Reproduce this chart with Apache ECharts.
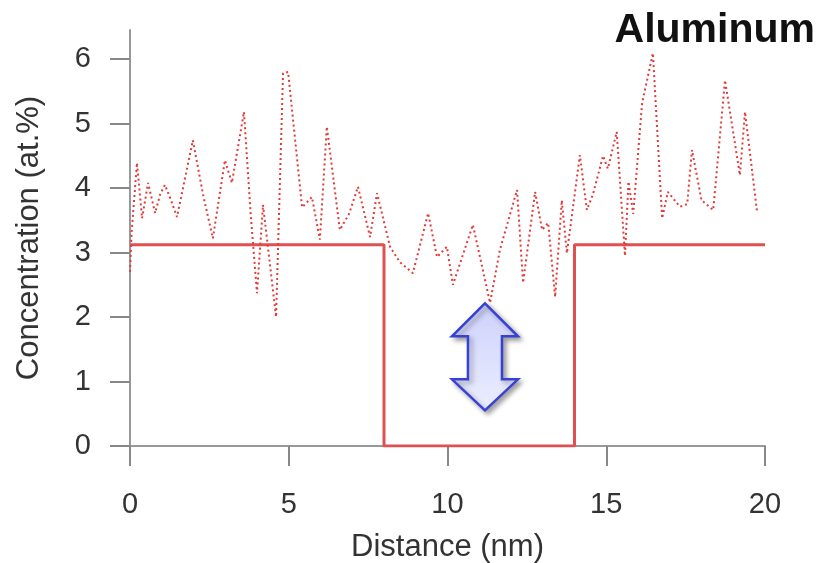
<!DOCTYPE html>
<html>
<head>
<meta charset="utf-8">
<title>Aluminum</title>
<script src="https://cdn.jsdelivr.net/npm/echarts@6/dist/echarts.min.js"></script>
<style>
  html, body { margin: 0; padding: 0; background: #fff; }
  #main { width: 823px; height: 563px; }
</style>
</head>
<body>
<div id="main"></div>
<script>
// tick labels
const xTicks = [0, 5, 10, 15, 20]
const yTicks = [0, 1, 2, 3, 4, 5, 6]

// measured concentration (dotted)
const noiseX = [0, 0.05, 0.22, 0.38, 0.57, 0.79, 0.95, 1.1, 1.3, 1.48, 1.98, 2.3, 2.61, 2.99, 3.21, 3.59,
  3.8, 4.0, 4.19, 4.6, 4.82, 4.98, 5.42, 5.73, 5.98, 6.2, 6.61, 6.9, 7.18, 7.56, 7.78, 8.19, 8.5, 8.91,
  9.39, 9.67, 9.98, 10.17, 10.8, 11.34, 11.65, 12.19, 12.38, 12.76, 12.98, 13.17, 13.39, 13.6, 13.76,
  14.17, 14.39, 14.58, 14.9, 15.05, 15.33, 15.59, 15.7, 15.85, 16.13, 16.47, 16.76, 16.94, 17.32, 17.55,
  17.7, 18.0, 18.37, 18.74, 19.21, 19.37, 19.75]
const noiseY = [2.7, 3.3, 4.39, 3.53, 4.08, 3.61, 3.9, 4.05, 3.8, 3.55, 4.74, 3.9, 3.22, 4.43, 4.08, 5.18,
  3.6, 2.37, 3.74, 2.0, 5.78, 5.8, 3.7, 3.86, 3.2, 4.95, 3.35, 3.6, 4.02, 3.24, 3.92, 3.09, 2.85, 2.68,
  3.61, 2.93, 3.09, 2.5, 3.43, 2.22, 3.04, 3.97, 2.53, 3.94, 3.35, 3.46, 2.31, 3.81, 2.99,
  4.51, 3.66, 3.9, 4.5, 4.3, 4.87, 2.95, 4.1, 3.6, 5.32, 6.09, 3.53, 3.94, 3.71, 3.75,
  4.59, 3.81, 3.66, 5.67, 4.2, 5.18, 3.63]

// model profile (solid step)
const stepX = [0, 8, 8, 14, 14, 20]
const stepY = [3.12, 3.12, 0, 0, 3.12, 3.12]

// arrow centre in data units
const arrowX = 11.18
const arrowY = 1.39

const zip = (xs, ys) => xs.map((x, i) => [x, ys[i]])

const chart = echarts.init(document.getElementById('main'))
const labelFont = { fontFamily: 'Liberation Sans, Arial, sans-serif', color: '#333' }

const option = {
  animation: false,
  backgroundColor: '#fff',
  title: {
    text: 'Aluminum',
    right: 3,
    top: 5,
    textStyle: { fontFamily: 'Liberation Sans, Arial, sans-serif', fontWeight: 'bold', fontSize: 41, color: '#111' }
  },
  // fixed plot box, don't let labels shrink it
  grid: { left: 130, right: 58, top: 30, bottom: 117, outerBoundsMode: 'none' },
  xAxis: {
    type: 'value',
    min: 0,
    max: 20,
    interval: 5,
    offset: 6,
    name: 'Distance (nm)',
    nameLocation: 'middle',
    nameGap: 80,
    nameTextStyle: Object.assign({ fontSize: 31 }, labelFont),
    axisLine: { lineStyle: { color: '#999', width: 2 } },
    axisTick: { length: 20, lineStyle: { color: '#888', width: 2 }, customValues: xTicks },
    axisLabel: Object.assign({ fontSize: 29, margin: 38, customValues: xTicks }, labelFont),
    splitLine: { show: false }
  },
  yAxis: {
    type: 'value',
    min: 0,
    max: 6.45,
    interval: 1,
    offset: 3,
    name: 'Concentration (at.%)',
    nameLocation: 'middle',
    nameGap: 82,
    nameTextStyle: Object.assign({ fontSize: 31 }, labelFont),
    axisLine: { show: true, lineStyle: { color: '#999', width: 2 } },
    axisTick: { show: true, length: 20, lineStyle: { color: '#888', width: 2 }, customValues: yTicks },
    axisLabel: Object.assign({ fontSize: 29, margin: 36, customValues: yTicks }, labelFont),
    splitLine: { show: false }
  },
  series: [
    {
      name: 'profile',
      type: 'line',
      data: zip(stepX, stepY),
      showSymbol: false,
      lineStyle: { color: '#e05050', width: 3 },
      z: 2
    },
    {
      name: 'measured',
      type: 'line',
      data: zip(noiseX, noiseY),
      showSymbol: false,
      lineStyle: { color: '#e23a3a', width: 2, type: [2, 3] },
      z: 3
    }
  ]
}
chart.setOption(option)

// double-headed arrow annotation
const c = chart.convertToPixel({ gridIndex: 0 }, [arrowX, arrowY])
chart.setOption({
  graphic: [{
    type: 'polygon',
    x: c[0],
    y: c[1],
    shape: {
      points: [[0, -53], [33, -20], [17, -20], [17, 23], [33, 23], [0, 54],
        [-33, 23], [-17, 23], [-17, -20], [-33, -20]]
    },
    style: {
      fill: new echarts.graphic.LinearGradient(0, 0, 0, 1, [
        { offset: 0, color: '#cdd1fb' },
        { offset: 1, color: '#eceeff' }
      ]),
      stroke: '#3742d4',
      lineWidth: 2.5,
      shadowBlur: 5,
      shadowOffsetX: 3,
      shadowOffsetY: 3,
      shadowColor: 'rgba(0,0,0,0.35)'
    },
    z: 10
  }]
})
</script>
</body>
</html>
